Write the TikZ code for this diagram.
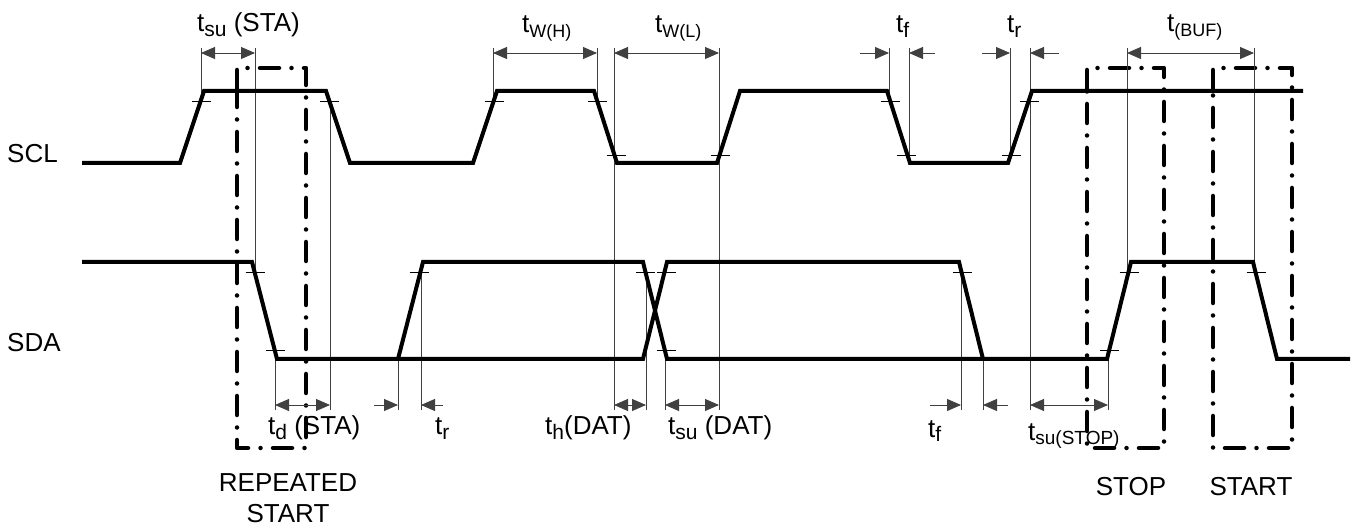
\documentclass[tikz,border=0pt]{standalone}
\usepackage{fontspec}
\setmainfont{Liberation Sans}
\usetikzlibrary{arrows.meta}
\newcommand\tsb[2][21]{t\raisebox{-5pt}{\fontsize{#1}{#1}\selectfont #2}}
\begin{document}
\begin{tikzpicture}[x=1pt,y=-1pt,
  sig/.style={line width=4pt,black},
  guide/.style={line width=0.9pt,black!75},
  tickmark/.style={line width=0.9pt,black},
  tip/.tip={Triangle[length=14pt,width=12pt]},
  dimboth/.style={line width=0.9pt,black!75,{tip}-{tip}},
  dimto/.style={line width=0.9pt,black!75,-{tip}},
  dd/.style={line width=4.5pt,line cap=round,line join=round,dash pattern=on 19pt off 12.5pt on 0pt off 12.5pt},
  lbl/.style={inner sep=0pt,font=\fontsize{26}{31}\selectfont}]
\useasboundingbox (0,0) rectangle (1353,529);

% dash-dot boxes
\draw[dd] (237,89) -- (237,68) -- (306,68) -- (306,448) -- (237,448) -- cycle;
\draw[dd] (1087,89) -- (1087,68) -- (1164,68) -- (1164,448) -- (1087,448) -- cycle;
\draw[dd] (1213,89) -- (1213,68) -- (1292,68) -- (1292,448) -- (1213,448) -- cycle;

% guide lines
\foreach \x/\a/\b in {201/48/101, 255/48/272, 330/101/410, 275/350/410, 398/359/410,
  421/272/410, 493/48/101, 597/48/101, 614/48/410, 719/48/410, 646/272/410, 665/350/410,
  889/48/101, 909/48/155, 1010/48/155, 1030/48/410, 961/272/410, 983/359/410,
  1108/350/410, 1127/48/272, 1254/48/272}
  \draw[guide] (\x,\a) -- (\x,\b);

% tick marks
\foreach \x/\y in {201/101, 329/101, 494/101, 597/101, 616/155, 720/155, 890/101,
  906/155, 1011/155, 1029/101, 255/272, 275/350, 419/272, 645/272, 666/272, 666/350,
  962/272, 1109/350, 1129/272, 1256/272}
  \draw[tickmark] (\x-9.5,\y) -- (\x+9.5,\y);

% signals
\draw[sig] (82,163) -- (180,163) -- (204,91) -- (326,91) -- (350,163) -- (473,163)
  -- (497,91) -- (594,91) -- (617,163) -- (717,163) -- (740,91) -- (887,91)
  -- (910,163) -- (1008,163) -- (1032,91) -- (1303,91);
\draw[sig] (82,262) -- (252,262) -- (277,359) -- (643,359) -- (667,262) -- (959,262)
  -- (983,359) -- (1107,359) -- (1131,262) -- (1253,262) -- (1277,359) -- (1350,359);
\draw[sig] (398,359) -- (423,262) -- (643,262) -- (667,359) -- (983,359);

% dimension arrows, top
\draw[dimboth] (201,53) -- (255,53);
\draw[dimboth] (493,53) -- (597,53);
\draw[dimboth] (614,53) -- (719,53);
\draw[dimboth] (1127,53) -- (1254,53);
\draw[dimto] (860,53) -- (889,53);
\draw[dimto] (935,53) -- (909,53);
\draw[dimto] (982,53) -- (1010,53);
\draw[dimto] (1059,53) -- (1030,53);
% dimension arrows, bottom
\draw[dimboth] (275,405) -- (330,405);
\draw[dimto] (374,405) -- (398,405);
\draw[dimto] (443,405) -- (421,405);
\draw[dimto] (630,405) -- (614,405);
\draw[dimto] (630,405) -- (646,405);
\draw[dimboth] (665,405) -- (719,405);
\draw[dimto] (930,405) -- (961,405);
\draw[dimto] (1008,405) -- (983,405);
\draw[dimboth] (1030,405) -- (1108,405);

% labels
\node[lbl,anchor=base west] (scl) at (7,163) {SCL};
\node[lbl,anchor=base west] (sda) at (7,352) {SDA};
\node[lbl,anchor=base west] (tsusta) at (197,32) {\tsb{su} (STA)};
\node[lbl,anchor=base west] (twh) at (522,33) {\tsb[18]{W(H)}};
\node[lbl,anchor=base west] (twl) at (655,33) {\tsb[18]{W(L)}};
\node[lbl,anchor=base west] (tftop) at (896,33) {\tsb{f}};
\node[lbl,anchor=base west] (trtop) at (1007,33) {\tsb{r}};
\node[lbl,anchor=base west] (tbuf) at (1167,32) {\tsb[18]{(BUF)}};
\node[lbl,anchor=base west] (tdsta) at (268,435) {\tsb{d} (STA)};
\node[lbl,anchor=base west] (trbot) at (435,435) {\tsb{r}};
\node[lbl,anchor=base west] (thdat) at (545,435) {\tsb{h}(DAT)};
\node[lbl,anchor=base west] (tsudat) at (668,435) {\tsb{su} (DAT)};
\node[lbl,anchor=base west] (tfbot) at (928,437) {\tsb{f}};
\node[lbl,anchor=base west] (tsustop) at (1028,440) {\tsb[19]{su(STOP)}};
\node[lbl,anchor=base,align=center] (rstart) at (288,491) {REPEATED};
\node[lbl,anchor=base] (rstart2) at (288,522) {START};
\node[lbl,anchor=base] (stop) at (1131,495) {STOP};
\node[lbl,anchor=base] (start) at (1251,495) {START};
\end{tikzpicture}
\end{document}
